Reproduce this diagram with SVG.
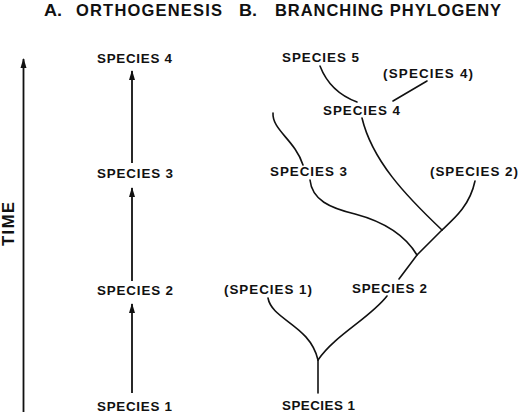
<svg xmlns="http://www.w3.org/2000/svg" width="520" height="414" viewBox="0 0 520 414">
<style>
.t{font-family:"Liberation Sans",Arial,sans-serif;font-weight:bold;fill:#111}
.h{font-size:16.5px}
.s{font-size:13.4px;text-anchor:start}
.ln{fill:none;stroke:#111;stroke-width:1.6;stroke-linecap:round}
.ar{fill:none;stroke:#111;stroke-width:1.8}
</style>
<defs>
<marker id="ah" markerUnits="userSpaceOnUse" markerWidth="10" markerHeight="10" viewBox="0 0 10 10" refX="9" refY="5" orient="auto">
<polygon points="0,2 10,5 0,8" fill="#111"/>
</marker>
</defs>
<rect width="520" height="414" fill="#fff"/>
<g id="titles">
<text class="t h" x="44" y="16" textLength="18" lengthAdjust="spacingAndGlyphs">A.</text>
<text class="t h" x="76" y="16" textLength="146" lengthAdjust="spacing">ORTHOGENESIS</text>
<text class="t h" x="239" y="16" textLength="18" lengthAdjust="spacingAndGlyphs">B.</text>
<text class="t h" x="275" y="16" textLength="226" lengthAdjust="spacing">BRANCHING PHYLOGENY</text>
</g>
<g id="time-axis">
<line class="ar" x1="23.5" y1="412" x2="23.5" y2="59" marker-end="url(#ah)"/>
<text class="t h" transform="translate(14,246) rotate(-90)" x="0" y="0" textLength="44" lengthAdjust="spacing">TIME</text>
</g>
<g id="connectors">
<line class="ar" x1="132" y1="393" x2="132" y2="304" marker-end="url(#ah)"/>
<line class="ar" x1="132" y1="281" x2="132" y2="188" marker-end="url(#ah)"/>
<line class="ar" x1="132" y1="163" x2="132" y2="71" marker-end="url(#ah)"/>
<path class="ln" d="M320,66 Q330,92 357,102"/>
<path class="ln" d="M427,81 L393,101"/>
<path class="ln" d="M362,118 C372,160 405,195 442,230"/>
<path class="ln" d="M475,181 C470,205 455,218 442,230"/>
<path class="ln" d="M273,113 C272,130 295,140 303,165"/>
<path class="ln" d="M310,180 C312,200 330,208 355,214 C385,222 405,235 417,255"/>
<path class="ln" d="M442,230 L417,255 L399,279"/>
<path class="ln" d="M387,296 C370,318 335,335 318,360"/>
<path class="ln" d="M268,298 C272,320 310,325 318,360"/>
<path class="ln" d="M318,360 L318,393"/>
</g>
<g id="a-species4"><text class="t s" x="97" y="63" textLength="75" lengthAdjust="spacing">SPECIES 4</text></g>
<g id="a-species3"><text class="t s" x="97" y="178" textLength="76" lengthAdjust="spacing">SPECIES 3</text></g>
<g id="a-species2"><text class="t s" x="97" y="295" textLength="76" lengthAdjust="spacing">SPECIES 2</text></g>
<g id="a-species1"><text class="t s" x="97" y="411" textLength="75" lengthAdjust="spacing">SPECIES 1</text></g>
<g id="b-species5"><text class="t s" x="282" y="62" textLength="77" lengthAdjust="spacing">SPECIES 5</text></g>
<g id="b-species4p"><text class="t s" x="383" y="78" textLength="90" lengthAdjust="spacing">(SPECIES 4)</text></g>
<g id="b-species4"><text class="t s" x="323" y="115" textLength="77" lengthAdjust="spacing">SPECIES 4</text></g>
<g id="b-species3"><text class="t s" x="270" y="176" textLength="77" lengthAdjust="spacing">SPECIES 3</text></g>
<g id="b-species2p"><text class="t s" x="430" y="176" textLength="88" lengthAdjust="spacing">(SPECIES 2)</text></g>
<g id="b-species1p"><text class="t s" x="224" y="294" textLength="88" lengthAdjust="spacing">(SPECIES 1)</text></g>
<g id="b-species2"><text class="t s" x="352" y="293" textLength="75" lengthAdjust="spacing">SPECIES 2</text></g>
<g id="b-species1"><text class="t s" x="282" y="410" textLength="73" lengthAdjust="spacing">SPECIES 1</text></g>
</svg>
